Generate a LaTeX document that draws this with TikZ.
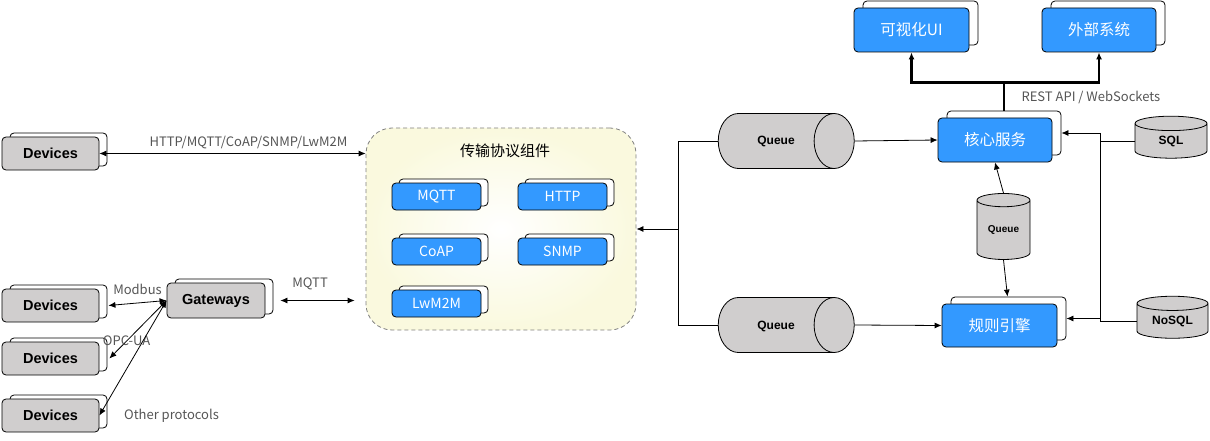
\documentclass[tikz,border=0pt]{standalone}
\usepackage{fontspec}
\setmainfont{Liberation Sans}
\newfontfamily\cjk{Noto Sans CJK SC}
\usetikzlibrary{shapes.geometric,shadows,arrows.meta}
\definecolor{boxblue}{RGB}{51,153,255}
\definecolor{boxgray}{RGB}{208,206,206}
\definecolor{lblgray}{RGB}{85,85,85}
\definecolor{paleyellow}{RGB}{250,249,222}
\tikzset{
  >={Latex[length=7pt,width=6pt]},
  stack/.style 2 args={draw, rounded corners=4pt, line width=0.8pt, inner sep=0pt,
    copy shadow={shadow xshift=#1, shadow yshift=#2, fill=white, draw=black}},
  devbox/.style={stack={8pt}{4pt}, fill=boxgray, minimum width=97pt, minimum height=33pt,
    font=\bfseries\fontsize{14.5}{16}\selectfont},
  protobox/.style={stack={7pt}{4pt}, fill=boxblue, text=white, minimum width=89pt, minimum height=27pt,
    font=\cjk\fontsize{14}{16}\selectfont},
  svcbox/.style={stack={9pt}{7pt}, fill=boxblue, text=white, minimum width=114pt, minimum height=44pt,
    font=\cjk\fontsize{15.5}{18}\selectfont},
  queue/.style={cylinder, draw, fill=boxgray, line width=0.8pt, inner sep=0pt},
  hqueue/.style={queue, aspect=0.73, text height=31.5pt, text depth=23.5pt, minimum height=136pt,
    font=\bfseries\fontsize{12}{14}\selectfont},
  vqueue/.style={queue, shape border rotate=90, align=center, text width=#1},
  lbl/.style={text=lblgray, font=\cjk\fontsize{13}{15}\selectfont},
  link/.style={line width=0.8pt},
  fat/.style={line width=2.5pt}
}

\begin{document}
\begin{tikzpicture}[x=1pt,y=-1pt]
\useasboundingbox (0,0) rectangle (1210,441);

% left side: devices and gateway
\node[devbox] (dev1) at (50.5,153.5) {Devices};
\node[devbox] (dev2) at (50.5,305.5) {Devices};
\node[devbox] (dev3) at (50.5,358.5) {Devices};
\node[devbox] (dev4) at (50.5,415.5) {Devices};
\node[devbox, minimum width=98pt, minimum height=35pt] (gw) at (216,300.5) {Gateways};

% transport components
\node[draw=gray, dashed, dash pattern=on 4pt off 3pt, line width=0.8pt, rounded corners=26pt,
  inner color=white, outer color=paleyellow, minimum width=270pt, minimum height=202pt] (comp) at (501,229) {};
\node[font=\cjk\fontsize{15}{17}\selectfont] (comptitle) at (505,151) {传输协议组件};
\node[protobox] (mqtt) at (436.5,196.5) {MQTT};
\node[protobox] (http) at (562.5,196.5) {HTTP};
\node[protobox] (coap) at (436.5,251.5) {CoAP};
\node[protobox] (snmp) at (562.5,251.5) {SNMP};
\node[protobox] (lwm2m) at (436.5,303.5) {LwM2M};

% queues
\node[hqueue] (q1) at (776,141) {Queue};
\node[hqueue] (q2) at (776,325) {Queue};
\node[vqueue=53pt, aspect=0.25, minimum height=66pt, font=\bfseries\fontsize{10}{12}\selectfont] (qm) at (1003.5,230) {Queue};

% services
\node[svcbox] (core) at (995,140) {核心服务};
\node[svcbox, minimum width=115pt, minimum height=43pt] (rule) at (999.5,325.5) {规则引擎};
\node[svcbox, minimum width=115pt] (ui) at (911.5,30) {可视化UI};
\node[svcbox] (ext) at (1099,30) {外部系统};

% storage
\node[vqueue=72pt, aspect=0.2, minimum height=42pt, font=\bfseries\fontsize{12}{14}\selectfont] (sql) at (1171,141) {SQL};
\node[vqueue=71pt, aspect=0.2, minimum height=42pt, font=\bfseries\fontsize{12}{14}\selectfont] (nosql) at (1172.5,321) {NoSQL};

% device links
\draw[link, <->] (dev1.east) -- node[lbl, above=1pt, pos=0.56] {HTTP/MQTT/CoAP/SNMP/LwM2M} (comp.west |- dev1.east);
\draw[link, <->] (gw.west) -- node[lbl, above=5pt] {Modbus} ([xshift=9pt]dev2.east);
\draw[link, <->] (gw.west) -- node[lbl, pos=0.7] {OPC-UA} ([xshift=10pt]dev3.east);
\draw[link, <->] (gw.west) -- node[lbl, at end, anchor=west, xshift=21pt] {Other protocols} (dev4.east);
\draw[link, <->] ([xshift=15pt]gw.east) -- node[lbl, above=7pt, pos=0.4] {MQTT} ([xshift=-11pt]comp.west |- gw.east);

% queues to components
\coordinate (split) at (678,229);
\draw[link] (q1.west) -| (split);
\draw[link] (q2.west) -| (split);
\draw[link, ->] (split) -- (comp.east |- split);
\draw[link, ->] (q1.east) -- (core.west);
\draw[link, ->] (q2.east) -- (rule.west);
\draw[link, ->] (qm.north) -- (core.south);
\draw[link, ->] (qm.south) -- ([shift={(8,-7)}]rule.north);

% storage links
\coordinate (bus) at (1100,230);
\coordinate (corein) at ([shift={(9,-7)}]core.east);
\coordinate (rulein) at ([shift={(9,-7)}]rule.east);
\draw[link] (sql.west) -- (sql.west -| bus);
\draw[link] (nosql.west) -- (nosql.west -| bus);
\draw[link] (bus |- corein) -- (bus |- nosql.west);
\draw[link, ->] (bus |- corein) -- (corein);
\draw[link, ->] (bus |- rulein) -- (rulein);

% api
\coordinate (coretop) at ([shift={(9,-7)}]core.north);
\draw[fat, ->] (coretop) -- ++(0,-28) -| (ui.south);
\draw[fat, ->] (coretop) -- ++(0,-28) -| (ext.south);
\node[lbl, anchor=west] (api) at (1018,97) {REST API / WebSockets};
\end{tikzpicture}
\end{document}
